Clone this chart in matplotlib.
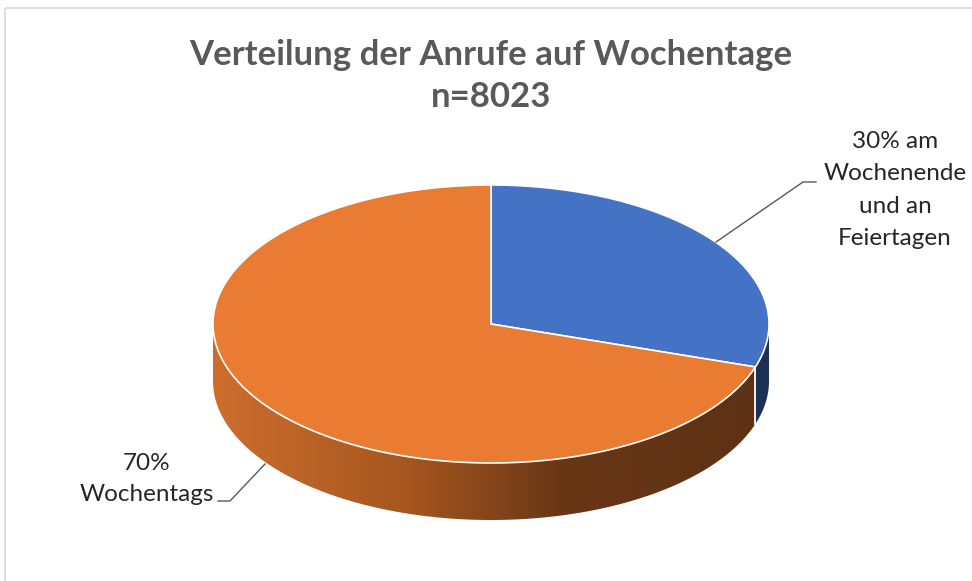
import numpy as np
import matplotlib.pyplot as plt
from matplotlib.colors import to_rgb
from matplotlib.patches import Polygon, Rectangle

# Daten
labels = ["30% am\nWochenende\nund an\nFeiertagen", "70%\nWochentags"]
values = [30, 70]
top_colors = ["#4472C4", "#E97B32"]
title = "Verteilung der Anrufe auf Wochentage\nn=8023"

W, H = 972, 581
fig = plt.figure(figsize=(W / 100, H / 100), dpi=100)
ax = fig.add_axes([0, 0, 1, 1])
ax.set_xlim(0, W)
ax.set_ylim(H, 0)
ax.axis("off")

# Rahmen des Diagramms
ax.add_patch(Rectangle((5, 7.5), W, H, fill=False, ec="#D9D9D9", lw=1.2))

# Geometrie der 3D-Torte (Pixel)
cx, cy, rx, ry, depth = 491, 324, 278, 139, 57


def pt(t, dy=0):
    return cx + rx * np.cos(t), cy - ry * np.sin(t) + dy


# Winkel der Segmente (Start oben, im Uhrzeigersinn)
fracs = np.array(values) / np.sum(values)
bounds = np.deg2rad(90 - 360 * np.concatenate([[0], np.cumsum(fracs)]))

# Farbverlauf der orangen Seitenwand (links hell -> rechts dunkel)
stops = [(0.0, "#CD6E2E"), (0.35, "#A6561F"), (0.62, "#6A3716"), (1.0, "#5C3114")]
fx = np.linspace(0, 1, 600)
grad = np.zeros((1, len(fx), 3))
for k in range(3):
    grad[0, :, k] = np.interp(fx, [s[0] for s in stops], [to_rgb(s[1])[k] for s in stops])
side_solid = {0: "#1D3157"}

# Seitenwand (nur sichtbare Vorderseite, sin t < 0)
for i in range(len(values)):
    a0, a1 = bounds[i], bounds[i + 1]
    lo, hi = min(a0, a1), max(a0, a1)
    for shift in (0, -2 * np.pi, 2 * np.pi):
        s0, s1 = max(lo + shift, -np.pi), min(hi + shift, 0)
        if s1 <= s0:
            continue
        ts = np.linspace(s0, s1, 300)
        xs, ys = pt(ts)
        poly = list(zip(xs, ys)) + list(zip(xs[::-1], ys[::-1] + depth))
        if i in side_solid:
            ax.add_patch(Polygon(poly, closed=True, fc=side_solid[i], ec="none"))
        else:
            patch = Polygon(poly, closed=True, fc="none", ec="none")
            ax.add_patch(patch)
            im = ax.imshow(grad, extent=[cx - rx, cx + rx, cy + ry + depth, cy - ry],
                           aspect="auto", interpolation="bilinear", zorder=1)
            im.set_clip_path(patch)
        for t in (s0, s1):
            if -np.pi < t < 0:
                x, y = pt(t)
                ax.plot([x, x], [y, y + depth], color="white", lw=1.2, alpha=0.8, zorder=2)

ax.set_xlim(0, W)
ax.set_ylim(H, 0)

# Oberseite
for i in range(len(values)):
    ts = np.linspace(bounds[i], bounds[i + 1], 400)
    xs, ys = pt(ts)
    poly = [(cx, cy)] + list(zip(xs, ys))
    ax.add_patch(Polygon(poly, closed=True, fc=top_colors[i], ec="white", lw=1.2, zorder=3))

# Beschriftungen mit Führungslinien
font = "Lato"
ax.plot([716, 803, 816], [242, 182, 182], color="#595959", lw=1, zorder=4)
ax.text(895, 190, labels[0], ha="center", va="center", fontsize=17.5,
        family=font, color="#262626", linespacing=1.65)
ax.plot([265, 230, 218], [464, 501, 501], color="#595959", lw=1, zorder=4)
ax.text(147, 479, labels[1], ha="center", va="center", fontsize=17.5,
        family=font, color="#262626", linespacing=1.6)

# Titel
ax.text(491, 76, title, ha="center", va="center", fontsize=25, family=font,
        fontweight="bold", color="#595959", linespacing=1.35)

fig.savefig("out.png", dpi=100)
